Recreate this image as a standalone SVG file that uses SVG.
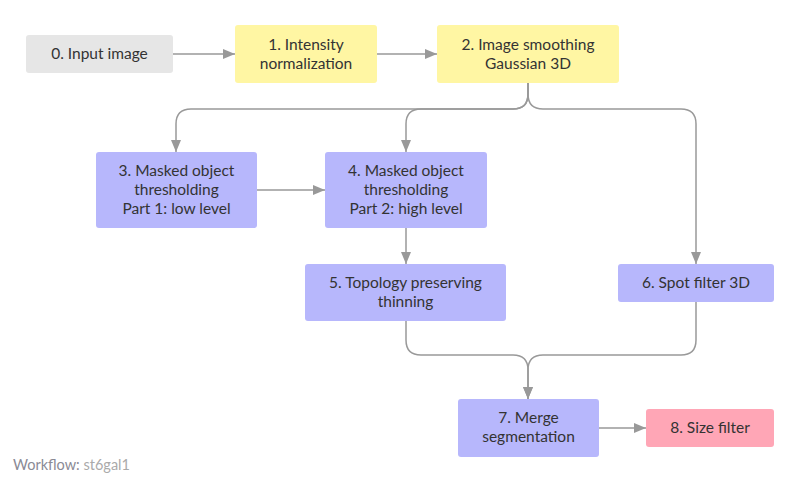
<svg xmlns="http://www.w3.org/2000/svg" width="800" height="485" viewBox="0 0 800 485">
<defs>
<marker id="ah" viewBox="0 0 12 10" refX="12" refY="5" markerWidth="12" markerHeight="10" markerUnits="userSpaceOnUse" orient="auto">
<path d="M0,0 L12,5 L0,10 Z" fill="#999"/>
</marker>
<style>
.e{fill:none;stroke:#999;stroke-width:1.5}
.t{font-family:Lato,"Open Sans",sans-serif;font-size:15.5px;fill:#333;text-anchor:middle}
.g{fill:#e6e6e6}
.y{fill:#fff6a3}
.b{fill:#b7b7fc}
.p{fill:#ffa6b6}
</style>
</defs>
<rect width="800" height="485" fill="#fff"/>
<g id="connectors">
<path class="e" d="M173,54 H235" marker-end="url(#ah)"/>
<path class="e" d="M377,54 H437" marker-end="url(#ah)"/>
<path class="e" d="M528,83 V94 Q528,109 513,109 H191 Q176,109 176,124 V152" marker-end="url(#ah)"/>
<path class="e" d="M528,83 V94 Q528,109 513,109 H421 Q406,109 406,124 V152" marker-end="url(#ah)"/>
<path class="e" d="M528,83 V94 Q528,109 543,109 H681 Q696,109 696,124 V264" marker-end="url(#ah)"/>
<path class="e" d="M257,190 H325" marker-end="url(#ah)"/>
<path class="e" d="M406,228 V264" marker-end="url(#ah)"/>
<path class="e" d="M406,321 V340 Q406,355 421,355 H513 Q528,355 528,370 V399" marker-end="url(#ah)"/>
<path class="e" d="M696,302 V340 Q696,355 681,355 H543 Q528,355 528,370 V399" marker-end="url(#ah)"/>
<path class="e" d="M599,428 H646" marker-end="url(#ah)"/>
</g>
<g id="n0"><rect class="g" x="26" y="35" width="147" height="38" rx="3"/><text class="t" x="99.5" y="59">0. Input image</text></g>
<g id="n1"><rect class="y" x="235" y="25" width="142" height="58" rx="3"/><text class="t" x="306" y="50">1. Intensity</text><text class="t" x="306" y="69">normalization</text></g>
<g id="n2"><rect class="y" x="437" y="25" width="182" height="58" rx="3"/><text class="t" x="528" y="50">2. Image smoothing</text><text class="t" x="528" y="69">Gaussian 3D</text></g>
<g id="n3"><rect class="b" x="96" y="152" width="161" height="76" rx="3"/><text class="t" x="176.5" y="176">3. Masked object</text><text class="t" x="176.5" y="195">thresholding</text><text class="t" x="176.5" y="214">Part 1: low level</text></g>
<g id="n4"><rect class="b" x="325" y="152" width="162" height="76" rx="3"/><text class="t" x="406" y="176">4. Masked object</text><text class="t" x="406" y="195">thresholding</text><text class="t" x="406" y="214">Part 2: high level</text></g>
<g id="n5"><rect class="b" x="305" y="264" width="201" height="57" rx="3"/><text class="t" x="405.5" y="288">5. Topology preserving</text><text class="t" x="405.5" y="307">thinning</text></g>
<g id="n6"><rect class="b" x="618" y="264" width="156" height="38" rx="3"/><text class="t" x="696" y="288">6. Spot filter 3D</text></g>
<g id="n7"><rect class="b" x="458" y="399" width="141" height="58" rx="3"/><text class="t" x="528.5" y="423">7. Merge</text><text class="t" x="528.5" y="442">segmentation</text></g>
<g id="n8"><rect class="p" x="646" y="409" width="128" height="38" rx="3"/><text class="t" x="710" y="433">8. Size filter</text></g>
<text x="13" y="470" font-family="Lato,'Open Sans',sans-serif" font-size="14.5" fill="#8a8a95">Workflow: <tspan fill="#aaa">st6gal1</tspan></text>
</svg>
